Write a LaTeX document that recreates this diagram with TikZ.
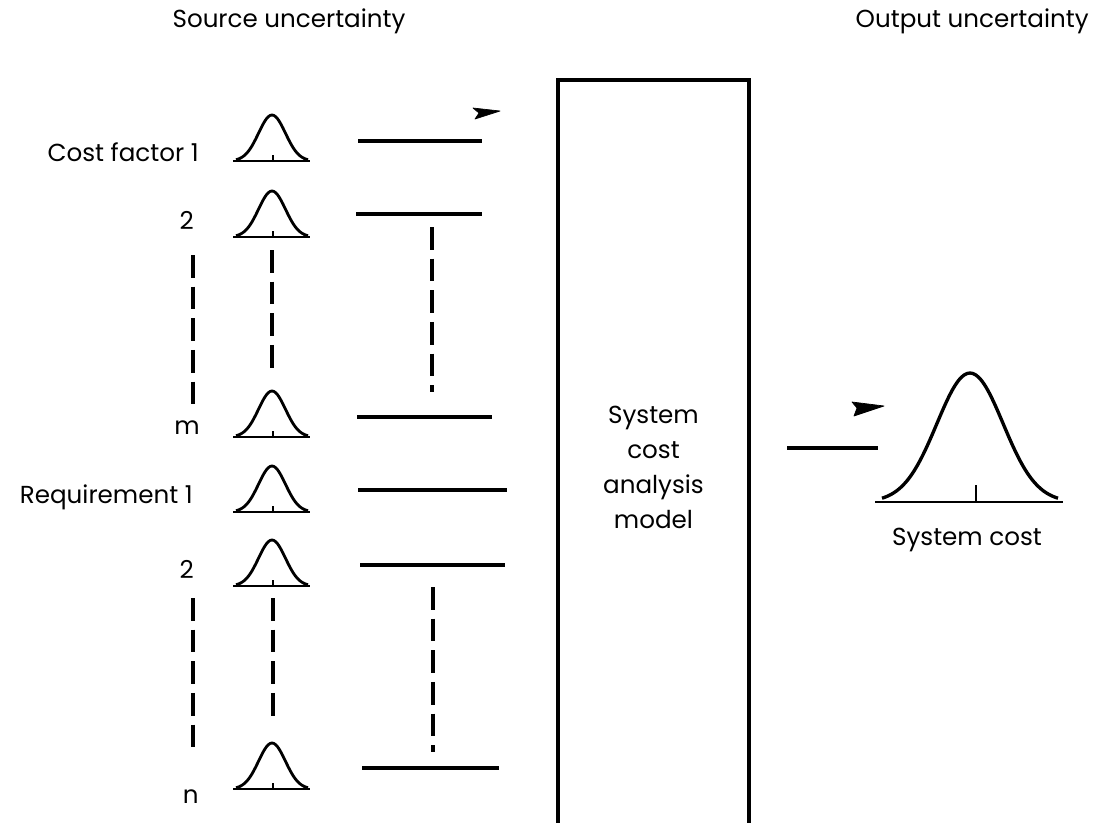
\documentclass[tikz,border=0pt]{standalone}
\usepackage{fontspec}
\setmainfont{Poppins}
\usetikzlibrary{positioning}

\tikzset{
  lbl/.style={font=\fontsize{14}{20}\selectfont, inner sep=0pt},
  curve/.style={line width=1.6pt, line join=round},
  feed/.style={line width=1.8pt},
  dashline/.style={line width=2pt, dash pattern=on 13pt off 5pt},
  arrowhead/.style={fill=black, draw=black, line width=0.4pt, line join=round}
}

\begin{document}
\begin{tikzpicture}[x=0.02cm, y=-0.02cm]
\useasboundingbox (0,0) rectangle (1095,822);

% Headings
\node[lbl] (srchead) at (289,21) {Source uncertainty};
\node[lbl, anchor=east] (outhead) at (1089,21) {Output uncertainty};

% Input labels
\node[lbl, anchor=east] (cf1) at (199,152) {Cost factor 1};
\node[lbl, anchor=east] (cf2) at (194,220) {2};
\node[lbl, anchor=east] (cfm) at (200,428) {m};
\node[lbl, anchor=east] (rq1) at (193,497) {Requirement 1};
\node[lbl, anchor=east] (rq2) at (194,569) {2};
\node[lbl, anchor=east] (rqn) at (199,797) {n};

% Small distributions
\foreach \n/\b in {cf1/161, cf2/237, cfm/437, rq1/512, rq2/586, rqn/789} {
  \coordinate (g\n) at (272,\b);
  \draw[curve] (233,\b) -- (310,\b);
  \draw[curve] plot[domain=-36:36, samples=41, smooth]
    ({272+\x}, {\b-46*exp(-((\x)*(\x))/360)});
  \draw[curve] (273,\b) -- (273,\b-6);
}

% Feed lines into the model
\foreach \n/\xa/\xb/\y in {cf1/358/482/141, cf2/356/482/214, cfm/357/492/417,
                            rq1/358/507/490, rq2/360/505/565, rqn/362/499/768} {
  \coordinate (fa\n) at (\xa,\y);
  \coordinate (fb\n) at (\xb,\y);
  \draw[feed] (fa\n) -- (fb\n);
}

% Dashed continuation marks
\coordinate (la) at (193,255);  \coordinate (lb) at (193,412);
\coordinate (lc) at (193,598);  \coordinate (ld) at (193,750);
\coordinate (ma) at (272,250);  \coordinate (mb) at (272,374);
\coordinate (mc) at (273,598);  \coordinate (md) at (273,722);
\coordinate (ra) at (432,227);  \coordinate (rb) at (432,392);
\coordinate (rc) at (433,587);  \coordinate (rd) at (433,752);
\draw[dashline] (la) -- (lb);
\draw[dashline] (lc) -- (ld);
\draw[dashline] (ma) -- (mb);
\draw[dashline] (mc) -- (md);
\draw[dashline] (ra) -- (rb);
\draw[dashline] (rc) -- (rd);

% Loose arrowheads
\fill[arrowhead] (473,108) -- (500,111) -- (475,119) -- (479,113) -- cycle;
\fill[arrowhead] (852,402) -- (884,406) -- (854,416) -- (857,408) -- cycle;

% Model box
\node[draw, line width=1.8pt, outer sep=0pt, anchor=north west,
      minimum width=3.82cm, minimum height=15.5cm,
      lbl, align=center] (model) at (558,80)
  {System\\cost\\analysis\\model};

% Output
\coordinate (outa) at (787,448);
\coordinate (outb) at (878,448);
\draw[feed] (outa) -- (outb);

\draw[curve] (875,502) -- (1063,502);
\draw[curve, line width=1.9pt] plot[domain=-88:88, samples=61, smooth]
  ({970+\x}, {502-129*exp(-((\x)*(\x))/2200)});
\draw[curve] (976,502) -- (976,485);
\node[lbl] (syscost) at (967,540) {System cost};

\end{tikzpicture}
\end{document}
